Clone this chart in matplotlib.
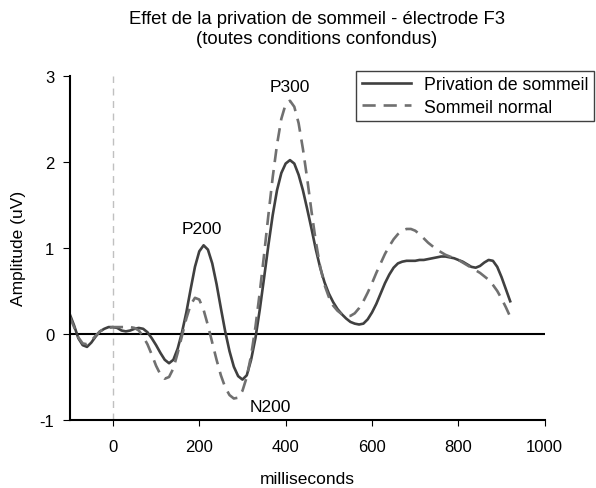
import numpy as np
import matplotlib
matplotlib.use('Agg')
import matplotlib.pyplot as plt
from matplotlib.ticker import FuncFormatter

plt.rcParams['font.family'] = ['Liberation Sans', 'DejaVu Sans']

# temps (ms), pas de 10 ms
temps = np.arange(-100, 921, 10)

privation = [
    0.23, 0.10, -0.05, -0.13, -0.15, -0.10, -0.03, 0.03, 0.06, 0.08,
    0.08, 0.07, 0.04, 0.03, 0.04, 0.06, 0.07, 0.06, 0.02, -0.05,
    -0.13, -0.22, -0.30, -0.34, -0.30, -0.17, 0.02, 0.25, 0.52, 0.78,
    0.96, 1.03, 0.98, 0.82, 0.58, 0.30, 0.03, -0.20, -0.38, -0.49,
    -0.53, -0.48, -0.30, -0.05, 0.28, 0.65, 1.03, 1.38, 1.67, 1.87,
    1.98, 2.02, 1.98, 1.85, 1.67, 1.45, 1.22, 0.98, 0.77, 0.60,
    0.47, 0.37, 0.29, 0.23, 0.18, 0.14, 0.12, 0.11, 0.12, 0.17,
    0.25, 0.35, 0.47, 0.59, 0.69, 0.77, 0.82, 0.84, 0.85, 0.85,
    0.85, 0.86, 0.86, 0.87, 0.88, 0.89, 0.90, 0.90, 0.89, 0.88,
    0.86, 0.84, 0.81, 0.78, 0.77, 0.79, 0.83, 0.86, 0.85, 0.78,
    0.66, 0.52, 0.38,
]

normal = [
    0.20, 0.08, -0.04, -0.11, -0.12, -0.08, -0.02, 0.03, 0.06, 0.07,
    0.08, 0.08, 0.08, 0.08, 0.08, 0.07, 0.04, -0.03, -0.12, -0.24,
    -0.37, -0.47, -0.52, -0.50, -0.40, -0.22, -0.02, 0.18, 0.34, 0.42,
    0.40, 0.28, 0.10, -0.10, -0.30, -0.48, -0.62, -0.71, -0.75, -0.74,
    -0.66, -0.50, -0.25, 0.08, 0.48, 0.92, 1.38, 1.82, 2.20, 2.50,
    2.67, 2.71, 2.64, 2.45, 2.15, 1.80, 1.42, 1.07, 0.78, 0.57,
    0.43, 0.33, 0.27, 0.23, 0.21, 0.21, 0.24, 0.30, 0.38, 0.48,
    0.59, 0.71, 0.82, 0.93, 1.02, 1.10, 1.16, 1.20, 1.22, 1.22,
    1.20, 1.16, 1.11, 1.06, 1.02, 0.98, 0.95, 0.92, 0.90, 0.88,
    0.86, 0.83, 0.80, 0.77, 0.74, 0.71, 0.67, 0.63, 0.57, 0.50,
    0.41, 0.31, 0.20,
]

# annotations des composantes
pics = ['P200', 'P300', 'N200']
pics_x = [205, 410, 365]
pics_y = [1.22, 2.88, -0.84]

fig = plt.figure(figsize=(5.96, 4.89), dpi=100)
ax = fig.add_axes([0.117, 0.139, 0.797, 0.704])

ax.axvline(0, color='#c0c0c0', linestyle=(0, (5, 4)), linewidth=1)
ax.axhline(0, color='black', linewidth=1.5)

ax.plot(temps, privation, color='#404040', linewidth=1.9,
        label='Privation de sommeil')
ax.plot(temps, normal, color='#707070', linewidth=1.9,
        linestyle=(0, (5, 3)), label='Sommeil normal')

for nom, px, py in zip(pics, pics_x, pics_y):
    ax.text(px, py, nom, ha='center', va='center', fontsize=12.5)

ax.set_xlim(-100, 1000)
ax.set_ylim(-1, 3)
ax.set_xticks([0, 200, 400, 600, 800, 1000])
ax.set_yticks([-1, 0, 1, 2, 3])
ax.yaxis.set_major_formatter(FuncFormatter(lambda v, p: '%d' % v))
ax.tick_params(axis='x', direction='out', length=4, labelsize=12, pad=10)
ax.tick_params(axis='y', direction='out', length=5, labelsize=12, pad=6)

for s in ['top', 'right']:
    ax.spines[s].set_visible(False)
ax.spines['left'].set_linewidth(1.5)
ax.spines['bottom'].set_linewidth(1.5)

ax.set_xlabel('milliseconds', fontsize=12.5, labelpad=12)
ax.set_ylabel('Amplitude (uV)', fontsize=12.5, labelpad=10)

fig.suptitle('Effet de la privation de sommeil - électrode F3\n'
             '(toutes conditions confondus)', fontsize=13.3, x=0.532,
             y=0.978, linespacing=1.22)

leg = ax.legend(loc='upper right', bbox_to_anchor=(0.997, 0.853),
                bbox_transform=fig.transFigure, fontsize=12.8,
                fancybox=False, framealpha=1, edgecolor='#404040',
                handlelength=2.8, handletextpad=0.73, borderpad=0.3,
                labelspacing=0.3, borderaxespad=0)
leg.get_frame().set_linewidth(1)

fig.savefig('out.png', dpi=100)
